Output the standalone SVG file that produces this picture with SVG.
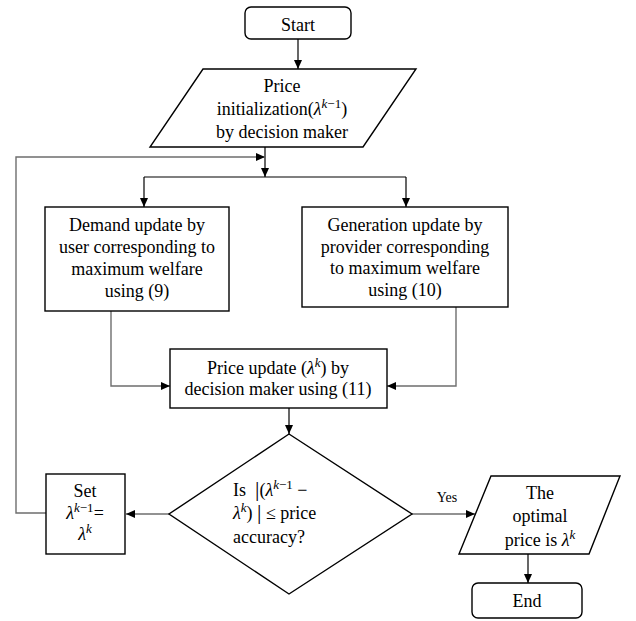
<svg xmlns="http://www.w3.org/2000/svg" width="636" height="621" viewBox="0 0 636 621">
<defs>
<style>
.shape{fill:#fff;stroke:#000;stroke-width:1.4}
.t{font-family:"Liberation Serif","Times New Roman",serif;font-size:18px;fill:#000;text-anchor:middle}
.tl{text-anchor:start}
.m{font-style:italic}
.sup{font-size:13px}
.ln{fill:none;stroke:#000;stroke-width:1.2}
.gr{fill:none;stroke:#6e6e6e;stroke-width:1.4}
</style>
<marker id="ah" markerUnits="userSpaceOnUse" markerWidth="10" markerHeight="8" refX="9" refY="4" orient="auto">
<path d="M0,0 L9,4 L0,8 Z" fill="#000"/>
</marker>
</defs>
<rect width="636" height="621" fill="#fff"/>
<g id="connectors">
<path class="ln" d="M298,39 V69" marker-end="url(#ah)"/>
<path class="ln" d="M265,147 V177" marker-end="url(#ah)"/>
<path class="gr" d="M46,513 H16 V157 H265" marker-end="url(#ah)"/>
<path class="ln" d="M144,177 H406"/>
<path class="ln" d="M144,177 V207" marker-end="url(#ah)"/>
<path class="ln" d="M406,177 V207" marker-end="url(#ah)"/>
<path class="gr" d="M111,311 V386 H170" marker-end="url(#ah)"/>
<path class="gr" d="M456,307 V386 H387" marker-end="url(#ah)"/>
<path class="ln" d="M289,408 V434" marker-end="url(#ah)"/>
<path class="gr" d="M169,514 H126" marker-end="url(#ah)"/>
<path class="gr" d="M412,514 H475" marker-end="url(#ah)"/>
<path class="ln" d="M528,554 V583" marker-end="url(#ah)"/>
<text class="t" x="447" y="502" style="font-size:14px">Yes</text>
</g>
<g id="start">
<rect class="shape" x="245" y="7" width="106" height="32" rx="6"/>
<text class="t" x="298" y="31">Start</text>
</g>
<g id="init">
<polygon class="shape" points="203,69 416,69 363,147 150,147"/>
<text class="t" x="282" y="92">Price</text>
<text class="t" x="282" y="115">initialization(<tspan class="m">λ</tspan><tspan class="sup m" dy="-7">k</tspan><tspan class="sup" dy="0">−1</tspan><tspan dy="7">)</tspan></text>
<text class="t" x="282" y="138">by decision maker</text>
</g>
<g id="demand">
<rect class="shape" x="45" y="207" width="184" height="104"/>
<text class="t" x="137" y="231">Demand update by</text>
<text class="t" x="137" y="253">user corresponding to</text>
<text class="t" x="137" y="275">maximum welfare</text>
<text class="t" x="137" y="297">using (9)</text>
</g>
<g id="generation">
<rect class="shape" x="302" y="207" width="206" height="100"/>
<text class="t" x="405" y="231">Generation update by</text>
<text class="t" x="405" y="253">provider corresponding</text>
<text class="t" x="405" y="274">to maximum welfare</text>
<text class="t" x="405" y="296">using (10)</text>
</g>
<g id="price-update">
<rect class="shape" x="170" y="349" width="217" height="59"/>
<text class="t" x="278" y="374">Price update (<tspan class="m">λ</tspan><tspan class="sup m" dy="-7">k</tspan><tspan dy="7">) by</tspan></text>
<text class="t" x="278" y="395">decision maker using (11)</text>
</g>
<g id="decision">
<polygon class="shape" points="289,434 412,514 289,594 169,514"/>
<text class="t tl" x="233" y="496">Is&#160;&#160;<tspan style="font-size:22px">|</tspan>(<tspan class="m">λ</tspan><tspan class="sup m" dy="-7">k</tspan><tspan class="sup" dy="0">−1</tspan><tspan dy="7">&#160;−</tspan></text>
<text class="t tl" x="233" y="519"><tspan class="m">λ</tspan><tspan class="sup m" dy="-7">k</tspan><tspan dy="7">)&#160;</tspan><tspan style="font-size:22px">|</tspan>&#160;≤ price</text>
<text class="t tl" x="233" y="543">accuracy?</text>
</g>
<g id="set">
<rect class="shape" x="46" y="474" width="79" height="80"/>
<text class="t" x="85" y="497">Set</text>
<text class="t" x="85" y="519"><tspan class="m">λ</tspan><tspan class="sup m" dy="-7">k</tspan><tspan class="sup" dy="0">−1</tspan><tspan dy="7">=</tspan></text>
<text class="t" x="85" y="540"><tspan class="m">λ</tspan><tspan class="sup m" dy="-7">k</tspan></text>
</g>
<g id="optimal">
<polygon class="shape" points="491,476 620,476 589,554 459,554"/>
<text class="t" x="540" y="499">The</text>
<text class="t" x="540" y="522">optimal</text>
<text class="t" x="540" y="546">price is <tspan class="m">λ</tspan><tspan class="sup m" dy="-7">k</tspan></text>
</g>
<g id="end">
<rect class="shape" x="472" y="583" width="110" height="35" rx="6"/>
<text class="t" x="527" y="607">End</text>
</g>
</svg>
